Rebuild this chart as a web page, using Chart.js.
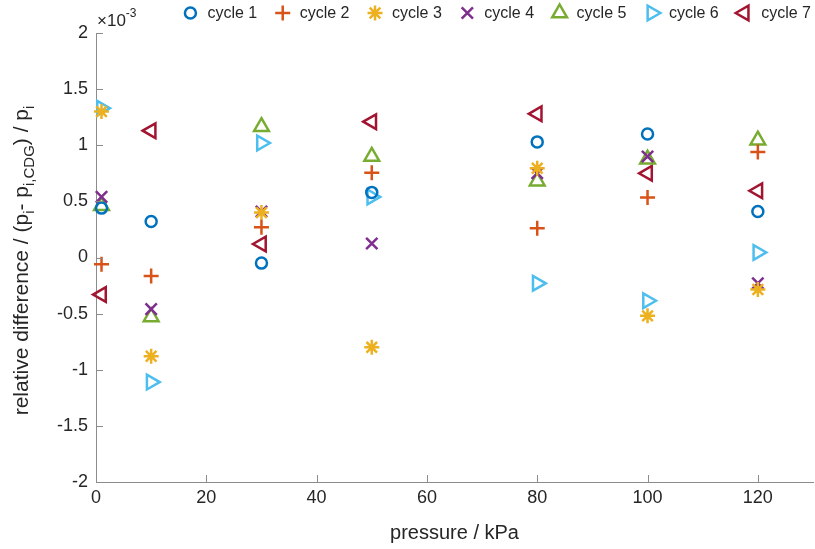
<!DOCTYPE html>
<html>
<head>
<meta charset="utf-8">
<script src="https://cdn.jsdelivr.net/npm/chart.js@4"></script>
<style>
    html, body { margin: 0; padding: 0; background: #ffffff; }
    #box { width: 815px; height: 549px; }
</style>
</head>
<body>
<div id="box"><canvas id="grafico"></canvas></div>
<script>
// pressures in kPa
let pressoes = [1, 10, 30, 50, 80, 100, 120];

// relative difference, in units of 1e-3
let ciclo1 = [0.44, 0.32, -0.05, 0.58, 1.03, 1.10, 0.41];
let ciclo2 = [-0.06, -0.165, 0.27, 0.755, 0.26, 0.535, 0.94];
let ciclo3 = [1.30, -0.88, 0.40, -0.80, 0.795, -0.52, -0.285];
let ciclo4 = [0.54, -0.46, 0.41, 0.125, 0.75, 0.90, -0.23];
let ciclo5 = [0.46, -0.53, 1.165, 0.90, 0.68, 0.875, 1.045];
let ciclo6 = [1.33, -1.11, 1.02, 0.54, -0.23, -0.385, 0.045];
let ciclo7 = [-0.33, 1.13, 0.12, 1.21, 1.28, 0.75, 0.595];

let nomesCiclos = ["cycle 1", "cycle 2", "cycle 3", "cycle 4", "cycle 5", "cycle 6", "cycle 7"];

let ticksX = [0, 20, 40, 60, 80, 100, 120];
let ticksY = [-2, -1.5, -1, -0.5, 0, 0.5, 1, 1.5, 2];

let corTexto = "#262626";
let corEixo = "#8c8c8c";
let fonte = "'Liberation Sans', Arial, sans-serif";

function montarPontos(valores) {
    let pontos = [];
    for (let i = 0; i < pressoes.length; i++) {
        pontos.push({ x: pressoes[i], y: valores[i] });
    }
    return pontos;
}

function serie(nome, valores, cor, estilo, raio, rotacao) {
    return {
        label: nome,
        data: montarPontos(valores),
        showLine: false,
        clip: false,
        pointStyle: estilo,
        pointRotation: rotacao,
        pointRadius: raio,
        pointHoverRadius: raio,
        pointBorderWidth: 2.5,
        borderWidth: 2.5,
        borderColor: cor,
        backgroundColor: "rgba(0,0,0,0)",
        pointBackgroundColor: "rgba(0,0,0,0)",
        pointBorderColor: cor
    };
}

// ticks pointing inward, legend, axis multiplier and y title with subscripts
let extras = {
    id: "extras",
    afterDraw: function (chart) {
        let ctx = chart.ctx;
        let area = chart.chartArea;
        let sx = chart.scales.x;
        let sy = chart.scales.y;

        ctx.save();
        ctx.strokeStyle = corEixo;
        ctx.lineWidth = 1;
        ctx.beginPath();
        for (let i = 0; i < ticksX.length; i++) {
            let px = Math.round(sx.getPixelForValue(ticksX[i])) + 0.5;
            ctx.moveTo(px, area.bottom);
            ctx.lineTo(px, area.bottom - 7);
        }
        for (let i = 0; i < ticksY.length; i++) {
            let py = Math.round(sy.getPixelForValue(ticksY[i])) + 0.5;
            ctx.moveTo(area.left, py);
            ctx.lineTo(area.left + 7, py);
        }
        ctx.stroke();

        // legenda
        ctx.font = "16px " + fonte;
        ctx.textBaseline = "middle";
        ctx.textAlign = "left";
        let conjuntos = chart.data.datasets;
        let larguraTotal = 0;
        for (let i = 0; i < conjuntos.length; i++) {
            larguraTotal += 17 + ctx.measureText(conjuntos[i].label).width;
            if (i < conjuntos.length - 1) {
                larguraTotal += 25.5;
            }
        }
        let lx = 811 - larguraTotal;
        let ly = 13;
        for (let i = 0; i < conjuntos.length; i++) {
            let d = conjuntos[i];
            ctx.strokeStyle = d.pointBorderColor;
            ctx.fillStyle = "rgba(0,0,0,0)";
            ctx.lineWidth = 2.5;
            Chart.helpers.drawPoint(ctx, {
                pointStyle: d.pointStyle,
                rotation: d.pointRotation,
                radius: d.pointRadius,
                borderWidth: 2.5
            }, lx, ly);
            ctx.fillStyle = corTexto;
            ctx.fillText(d.label, lx + 17, ly + 1);
            lx += 17 + ctx.measureText(d.label).width + 25.5;
        }

        // x10^-3
        ctx.fillStyle = corTexto;
        ctx.textBaseline = "alphabetic";
        ctx.font = "17px " + fonte;
        ctx.fillText("\u00d710", area.left + 1, area.top - 7);
        let w = ctx.measureText("\u00d710").width;
        ctx.font = "12px " + fonte;
        ctx.fillText("-3", area.left + 1 + w, area.top - 16);

        // y title
        let partes = [
            ["relative difference / (p", false],
            ["i", true],
            ["- p", false],
            ["i,CDG", true],
            [") / p", false],
            ["i", true]
        ];
        let fonteN = "21px " + fonte;
        let fonteS = "15px " + fonte;
        let total = 0;
        for (let i = 0; i < partes.length; i++) {
            ctx.font = partes[i][1] ? fonteS : fonteN;
            total += ctx.measureText(partes[i][0]).width;
        }
        let cy = (area.top + area.bottom) / 2 + 3;
        ctx.translate(28, cy);
        ctx.rotate(-Math.PI / 2);
        let pos = -total / 2;
        for (let i = 0; i < partes.length; i++) {
            ctx.font = partes[i][1] ? fonteS : fonteN;
            ctx.fillText(partes[i][0], pos, partes[i][1] ? 6 : 0);
            pos += ctx.measureText(partes[i][0]).width;
        }
        ctx.restore();
    }
};

let ctxGrafico = document.getElementById("grafico");

new Chart(ctxGrafico, {
    type: "scatter",
    data: {
        datasets: [
            serie(nomesCiclos[0], ciclo1, "#0072BD", "circle", 5.5, 0),
            serie(nomesCiclos[1], ciclo2, "#D95319", "cross", 7.5, 0),
            serie(nomesCiclos[2], ciclo3, "#EDB120", "star", 7.5, 0),
            serie(nomesCiclos[3], ciclo4, "#7E2F8E", "crossRot", 8, 0),
            serie(nomesCiclos[4], ciclo5, "#77AC30", "triangle", 8.5, 0),
            serie(nomesCiclos[5], ciclo6, "#4DBEEE", "triangle", 8.5, 90),
            serie(nomesCiclos[6], ciclo7, "#A2142F", "triangle", 8.5, -90)
        ]
    },
    options: {
        responsive: true,
        maintainAspectRatio: false,
        animation: false,
        layout: {
            autoPadding: false,
            padding: { left: 0, right: 2, top: 33, bottom: 0 }
        },
        plugins: {
            tooltip: { enabled: false },
            legend: { display: false }
        },
        scales: {
            x: {
                type: "linear",
                min: 0,
                max: 130,
                afterBuildTicks: function (escala) {
                    escala.ticks = ticksX.map(function (v) { return { value: v }; });
                },
                afterFit: function (escala) {
                    escala.height = 67;
                    escala.paddingRight = 0;
                    escala.paddingLeft = 0;
                },
                grid: { display: false, drawTicks: false },
                border: { display: true, color: corEixo, width: 1 },
                ticks: {
                    color: corTexto,
                    padding: 5,
                    maxRotation: 0,
                    font: { family: fonte, size: 18 }
                },
                title: {
                    display: true,
                    text: "pressure / kPa",
                    color: corTexto,
                    padding: { top: 3 },
                    font: { family: fonte, size: 20 }
                }
            },
            y: {
                type: "linear",
                min: -2,
                max: 2,
                afterBuildTicks: function (escala) {
                    escala.ticks = ticksY.map(function (v) { return { value: v }; });
                },
                afterFit: function (escala) {
                    escala.width = 96;
                },
                grid: { display: false, drawTicks: false },
                border: { display: true, color: corEixo, width: 1 },
                ticks: {
                    color: corTexto,
                    padding: 8,
                    font: { family: fonte, size: 18 },
                    callback: function (v) { return String(v); }
                }
            }
        }
    },
    plugins: [extras]
});
</script>
</body>
</html>
